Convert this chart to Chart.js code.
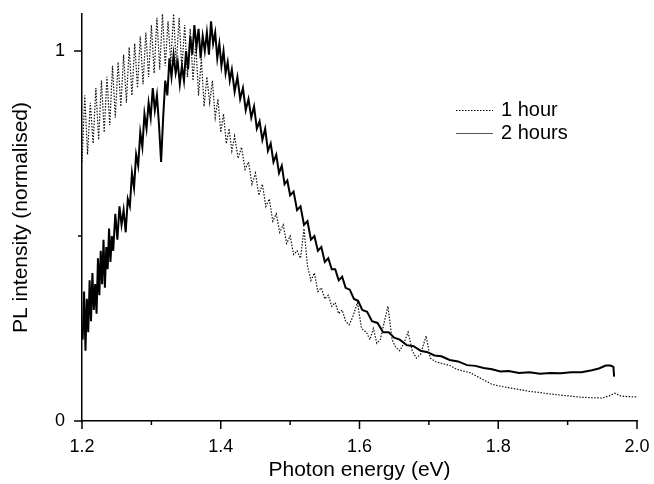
<!DOCTYPE html>
<html>
<head>
<meta charset="utf-8">
<title>PL intensity</title>
<script src="https://cdn.jsdelivr.net/npm/chart.js@4.4.0/dist/chart.umd.min.js"></script>
<style>
    html, body { margin: 0; padding: 0; background: #fff; }
    #wrap { width: 654px; height: 484px; }
</style>
</head>
<body>
<div id="wrap"><canvas id="plChart" width="654" height="484"></canvas></div>
<script>
// 1 hour sample (dotted)
const energy1h = [
    1.200, 1.204, 1.208, 1.212, 1.216, 1.220, 1.224, 1.228, 1.232, 1.236,
    1.240, 1.244, 1.248, 1.252, 1.256, 1.260, 1.264, 1.268, 1.272, 1.276,
    1.280, 1.284, 1.288, 1.292, 1.296, 1.300, 1.304, 1.308, 1.312, 1.316,
    1.320, 1.324, 1.328, 1.332, 1.336, 1.340, 1.344, 1.348, 1.352, 1.356,
    1.360, 1.364, 1.368, 1.372, 1.376, 1.380, 1.384, 1.388, 1.392, 1.396,
    1.400, 1.404, 1.408, 1.412, 1.416, 1.420, 1.425, 1.430, 1.435, 1.440,
    1.445, 1.450, 1.455, 1.460, 1.465, 1.470, 1.475, 1.480, 1.485, 1.490,
    1.495, 1.500, 1.505, 1.510, 1.515, 1.520, 1.525, 1.530, 1.535, 1.540,
    1.545, 1.550, 1.555, 1.560, 1.565, 1.570, 1.575, 1.580, 1.585, 1.590,
    1.597, 1.603, 1.610, 1.615, 1.620, 1.625, 1.630, 1.636, 1.641, 1.647,
    1.652, 1.658, 1.664, 1.670, 1.676, 1.682, 1.688, 1.696, 1.702, 1.710,
    1.720, 1.730, 1.740, 1.750, 1.760, 1.770, 1.780, 1.790, 1.800, 1.815,
    1.830, 1.845, 1.860, 1.875, 1.890, 1.905, 1.920, 1.935, 1.950, 1.960,
    1.968, 1.976, 1.985, 2.000
];
const pl1h = [
    0.70, 0.88, 0.72, 0.86, 0.75, 0.90, 0.76, 0.92, 0.78, 0.93,
    0.80, 0.96, 0.82, 0.97, 0.85, 0.99, 0.86, 1.01, 0.88, 1.02,
    0.90, 1.04, 0.91, 1.05, 0.93, 1.07, 0.94, 1.09, 0.95, 1.10,
    0.96, 1.08, 0.97, 1.10, 0.96, 1.09, 0.95, 1.07, 0.93, 1.06,
    0.92, 1.02, 0.88, 0.98, 0.85, 0.93, 0.86, 0.92, 0.82, 0.87,
    0.78, 0.83, 0.75, 0.79, 0.73, 0.77, 0.71, 0.74, 0.68, 0.70,
    0.64, 0.67, 0.61, 0.64, 0.58, 0.60, 0.54, 0.56, 0.51, 0.53,
    0.48, 0.50, 0.45, 0.46, 0.44, 0.52, 0.42, 0.38, 0.40, 0.35,
    0.36, 0.33, 0.34, 0.31, 0.32, 0.29, 0.30, 0.27, 0.26, 0.28,
    0.32, 0.25, 0.24, 0.22, 0.25, 0.21, 0.22, 0.27, 0.31, 0.22,
    0.20, 0.19, 0.21, 0.24, 0.19, 0.17, 0.18, 0.23, 0.17, 0.16,
    0.155, 0.15, 0.14, 0.135, 0.13, 0.12, 0.11, 0.10, 0.095, 0.09,
    0.085, 0.08, 0.077, 0.073, 0.07, 0.067, 0.064, 0.063, 0.062, 0.068,
    0.075, 0.068, 0.066, 0.065
];

// 2 hours sample (solid)
const energy2h = [
    1.201, 1.203, 1.205, 1.207, 1.209, 1.211, 1.213, 1.215, 1.217, 1.219,
    1.221, 1.223, 1.225, 1.227, 1.229, 1.231, 1.233, 1.235, 1.237, 1.239,
    1.241, 1.243, 1.245, 1.248, 1.251, 1.254, 1.257, 1.260, 1.263, 1.266,
    1.269, 1.272, 1.275, 1.278, 1.281, 1.284, 1.287, 1.290, 1.293, 1.296,
    1.299, 1.302, 1.305, 1.308, 1.311, 1.314, 1.317, 1.320, 1.323, 1.326,
    1.329, 1.332, 1.335, 1.338, 1.341, 1.344, 1.347, 1.350, 1.353, 1.356,
    1.359, 1.362, 1.365, 1.368, 1.371, 1.374, 1.377, 1.380, 1.383, 1.386,
    1.389, 1.392, 1.395, 1.398, 1.401, 1.404, 1.407, 1.410, 1.413, 1.416,
    1.420, 1.424, 1.428, 1.432, 1.436, 1.440, 1.444, 1.448, 1.452, 1.456,
    1.460, 1.464, 1.468, 1.472, 1.476, 1.480, 1.484, 1.488, 1.492, 1.496,
    1.500, 1.505, 1.510, 1.515, 1.520, 1.525, 1.530, 1.535, 1.540, 1.545,
    1.550, 1.555, 1.560, 1.565, 1.570, 1.575, 1.580, 1.586, 1.592, 1.598,
    1.604, 1.611, 1.618, 1.626, 1.634, 1.642, 1.650, 1.658, 1.668, 1.678,
    1.688, 1.698, 1.708, 1.718, 1.730, 1.742, 1.755, 1.767, 1.779, 1.791,
    1.803, 1.815, 1.830, 1.845, 1.860, 1.875, 1.890, 1.905, 1.920, 1.935,
    1.945, 1.955, 1.962, 1.966, 1.967
];
const pl2h = [
    0.22, 0.35, 0.19, 0.33, 0.24, 0.38, 0.27, 0.40, 0.30, 0.37,
    0.29, 0.44, 0.34, 0.46, 0.37, 0.49, 0.36, 0.47, 0.41, 0.52,
    0.43, 0.50, 0.46, 0.56, 0.49, 0.58, 0.53, 0.57, 0.51, 0.60,
    0.58, 0.67, 0.63, 0.72, 0.69, 0.78, 0.74, 0.83, 0.79, 0.86,
    0.82, 0.90, 0.84, 0.88, 0.80, 0.70, 0.82, 0.92, 0.88, 0.98,
    0.93, 0.99, 0.94, 0.97, 0.91, 0.96, 0.92, 1.00, 0.95, 1.04,
    0.99, 1.07, 1.01, 1.06, 0.98, 1.04, 1.00, 1.05, 0.99, 1.08,
    1.02, 1.05, 0.98, 1.02, 0.96, 1.00, 0.94, 0.97, 0.92, 0.95,
    0.89, 0.93, 0.87, 0.90, 0.84, 0.87, 0.82, 0.85, 0.79, 0.81,
    0.76, 0.79, 0.73, 0.75, 0.70, 0.72, 0.67, 0.69, 0.64, 0.65,
    0.61, 0.62, 0.57, 0.58, 0.53, 0.54, 0.49, 0.50, 0.46, 0.47,
    0.43, 0.44, 0.41, 0.41, 0.38, 0.39, 0.36, 0.355, 0.33, 0.325,
    0.30, 0.295, 0.27, 0.265, 0.24, 0.24, 0.225, 0.22, 0.205, 0.202,
    0.19, 0.186, 0.177, 0.175, 0.165, 0.161, 0.151, 0.149, 0.143, 0.140,
    0.134, 0.135, 0.130, 0.132, 0.128, 0.130, 0.129, 0.132, 0.132, 0.137,
    0.142, 0.150, 0.150, 0.146, 0.120
];

// axis ticks
const xTicks = [1.2, 1.3, 1.4, 1.5, 1.6, 1.7, 1.8, 1.9, 2.0];
const xLabels = ['1.2', '', '1.4', '', '1.6', '', '1.8', '', '2.0'];
const yTicks = [0, 0.5, 1];
const yLabels = ['0', '', '1'];

const seriesNames = ['1 hour', '2 hours'];

const FONT = "'Liberation Sans', Arial, sans-serif";

const toPoints = (xs, ys) => xs.map((x, i) => ({ x: x, y: ys[i] }));

// tick marks (long for labelled, short for the rest) and the inset legend
const axisDecor = {
    id: 'axisDecor',
    afterDraw(chart) {
        const { ctx, chartArea, scales: { x, y } } = chart;
        ctx.save();
        ctx.strokeStyle = '#000';
        ctx.lineWidth = 1.5;
        xTicks.forEach((v, i) => {
            const px = x.getPixelForValue(v);
            const len = xLabels[i] ? 8 : 4;
            ctx.beginPath();
            ctx.moveTo(px, chartArea.bottom);
            ctx.lineTo(px, chartArea.bottom + len);
            ctx.stroke();
        });
        yTicks.forEach((v, i) => {
            const py = y.getPixelForValue(v);
            const len = yLabels[i] ? 8 : 4;
            ctx.beginPath();
            ctx.moveTo(chartArea.left, py);
            ctx.lineTo(chartArea.left - len, py);
            ctx.stroke();
        });

        // legend
        const lx0 = 456, lx1 = 493, tx = 501;
        const rows = [110, 133];
        ctx.font = '20px ' + FONT;
        ctx.fillStyle = '#000';
        ctx.textBaseline = 'middle';
        ctx.textAlign = 'left';
        chart.data.datasets.forEach((ds, i) => {
            ctx.beginPath();
            ctx.strokeStyle = i === 0 ? '#000' : '#555';
            ctx.lineWidth = 1;
            ctx.setLineDash(ds.borderDash || []);
            ctx.moveTo(lx0, rows[i] + 0.5);
            ctx.lineTo(lx1, rows[i] + 0.5);
            ctx.stroke();
            ctx.setLineDash([]);
            ctx.fillText(ds.label, tx, rows[i]);
        });
        ctx.restore();
    }
};

const ctx = document.getElementById('plChart').getContext('2d');
new Chart(ctx, {
    type: 'scatter',
    data: {
        datasets: [
            {
                label: seriesNames[0],
                data: toPoints(energy1h, pl1h),
                showLine: true,
                borderColor: '#111',
                borderWidth: 1.2,
                borderDash: [1.5, 1.5],
                pointRadius: 0,
                tension: 0
            },
            {
                label: seriesNames[1],
                data: toPoints(energy2h, pl2h),
                showLine: true,
                borderColor: '#000',
                borderWidth: 2,
                pointRadius: 0,
                tension: 0
            }
        ]
    },
    options: {
        responsive: false,
        animation: false,
        devicePixelRatio: 1,
        layout: { padding: { left: 0, right: 17, top: 14, bottom: 0 } },
        plugins: {
            legend: { display: false },
            tooltip: { enabled: false }
        },
        scales: {
            x: {
                type: 'linear',
                min: 1.2,
                max: 2.0,
                afterBuildTicks: scale => { scale.ticks = xTicks.map(v => ({ value: v })); },
                afterFit: scale => {
                    scale.height = 63;
                    scale.paddingLeft = 0;
                    scale.paddingRight = 0;
                },
                ticks: {
                    autoSkip: false,
                    maxRotation: 0,
                    padding: 15,
                    color: '#000',
                    font: { family: FONT, size: 18 },
                    callback: (v, i) => xLabels[i]
                },
                grid: { display: false, drawTicks: false },
                border: { display: true, color: '#000', width: 1.5 },
                title: {
                    display: true,
                    text: 'Photon energy (eV)',
                    color: '#000',
                    font: { family: FONT, size: 21 },
                    padding: { top: 0, bottom: 1 }
                }
            },
            y: {
                min: 0,
                max: 1.1,
                afterBuildTicks: scale => { scale.ticks = yTicks.map(v => ({ value: v })); },
                afterFit: scale => {
                    scale.width = 82;
                    scale.paddingTop = 0;
                    scale.paddingBottom = 0;
                },
                ticks: {
                    padding: 17,
                    color: '#000',
                    font: { family: FONT, size: 18 },
                    callback: (v, i) => yLabels[i]
                },
                grid: { display: false, drawTicks: false },
                border: { display: true, color: '#000', width: 1.5 },
                title: {
                    display: true,
                    text: 'PL intensity (normalised)',
                    color: '#000',
                    font: { family: FONT, size: 21 },
                    padding: { top: 9, bottom: 0 }
                }
            }
        }
    },
    plugins: [axisDecor]
});
</script>
</body>
</html>
